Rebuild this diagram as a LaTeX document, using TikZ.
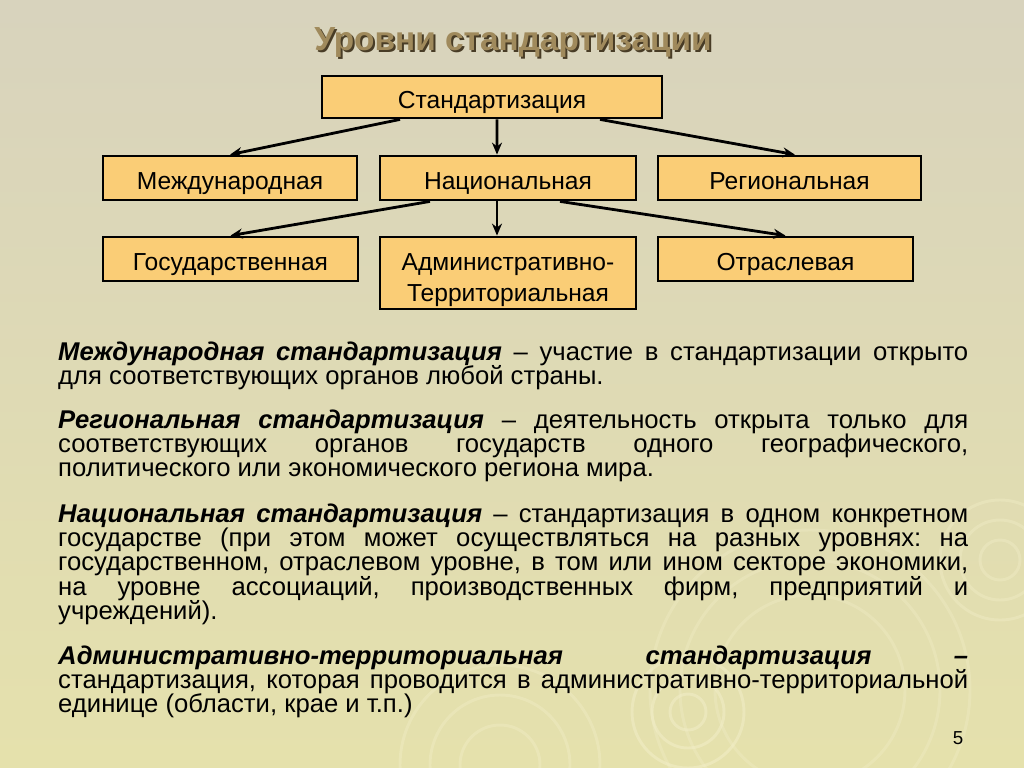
\documentclass[tikz,border=0pt]{standalone}
\usepackage{fontspec}
\setmainfont{Liberation Sans}
\usetikzlibrary{positioning,arrows.meta}
\definecolor{bgtop}{RGB}{216,211,189}
\definecolor{bgbot}{RGB}{229,225,172}
\definecolor{boxfill}{RGB}{250,205,118}
\definecolor{titlecol}{RGB}{160,138,92}
\definecolor{titleshade}{RGB}{72,60,38}
\definecolor{ripple}{RGB}{242,238,200}
\newcommand{\justsetup}{\frenchspacing\tolerance=10000\relax\hyphenpenalty=10000\relax\exhyphenpenalty=10000\relax}

\begin{document}
\begin{tikzpicture}[x=0.3mm, y=-0.3mm,
    lvl/.style={draw=black, line width=2.4pt, fill=boxfill,
      inner sep=0pt, font=\fontsize{21pt}{26.5pt}\selectfont},
    one/.style={text height=18.9pt, text depth=0pt},
    arr/.style={-{Stealth[length=3.6mm,width=3mm]}, line width=2.4pt},
    para/.style={anchor=base west, text width=273mm, align=justify, inner sep=0pt,
      font=\fontsize{21.9pt}{20.9pt}\selectfont, execute at begin node=\justsetup}]
  % background
  \useasboundingbox (0,0) rectangle (1024,767);
  \fill[top color=bgtop, bottom color=bgbot] (0,0) rectangle (1024,767);
  \begin{scope}
    \clip (0,0) rectangle (1024,767);
    \foreach \r in {18,36,56}
      \draw[ripple, line width=2.5pt, opacity=0.55] (688,712) circle (\r);
    \foreach \r in {95,130,160}
      \draw[ripple, line width=2.5pt, opacity=0.35] (810,690) circle (\r);
    \foreach \r in {40,70,100}
      \draw[ripple, line width=2.5pt, opacity=0.4] (500,765) circle (\r);
    \foreach \r in {20,40,60}
      \draw[ripple, line width=2.5pt, opacity=0.4] (1000,560) circle (\r);
  \end{scope}

  % title
  \node[anchor=base, titleshade, font=\bfseries\fontsize{28.5pt}{30pt}\selectfont] (titleshadow) at (515,52) {Уровни стандартизации};
  \node[anchor=base, titlecol, font=\bfseries\fontsize{28.5pt}{30pt}\selectfont] (title) at (513,50) {Уровни стандартизации};

  % levels
  \node[lvl, one, minimum width=102mm, minimum height=12.6mm] (std) at (492,97) {Стандартизация};
  \node[lvl, one, minimum width=76.2mm, minimum height=13.2mm] (intl) at (230,178) {Международная};
  \node[lvl, one, minimum width=76.8mm, minimum height=13.2mm] (nat) at (508,178) {Национальная};
  \node[lvl, one, minimum width=78.9mm, minimum height=13.2mm] (reg) at (789.5,178) {Региональная};
  \node[lvl, one, minimum width=76.5mm, minimum height=13.2mm] (gos) at (230.5,259) {Государственная};
  \node[lvl, align=center, minimum width=76.8mm, minimum height=21.6mm] (adm) at (508,273) {\rule{0pt}{26pt}Административно-\\Территориальная};
  \node[lvl, one, minimum width=76.5mm, minimum height=13.2mm] (otr) at (785.5,259) {Отраслевая};

  \draw[arr] ([xshift=-27.6mm]std.south) -- (intl.north);
  \draw[arr] ([xshift=1.5mm]std.south) -- ([xshift=-3.3mm]nat.north);
  \draw[arr] ([xshift=32.4mm]std.south) -- ([xshift=1.6mm]reg.north);
  \draw[arr] ([xshift=-23.4mm]nat.south) -- (gos.north);
  \draw[arr] ([xshift=-3.3mm]nat.south) -- ([xshift=-3.3mm]adm.north);
  \draw[arr] ([xshift=15.6mm]nat.south) -- (otr.north);

  % definitions
  \node[para] (pintl) at (58,360) {\textbf{\textit{Международная стандартизация}} – участие в стандартизации открыто\linebreak для соответствующих органов любой страны.};
  \node[para] (preg) at (58,428) {\textbf{\textit{Региональная стандартизация}} – деятельность открыта только для\linebreak соответствующих органов государств одного географического,\linebreak политического или экономического региона мира.};
  \node[para] (pnat) at (58,522) {\textbf{\textit{Национальная стандартизация}} – стандартизация в одном конкретном\linebreak государстве (при этом может осуществляться на разных уровнях: на\linebreak государственном, отраслевом уровне, в том или ином секторе экономики,\linebreak на уровне ассоциаций, производственных фирм, предприятий и\linebreak учреждений).};
  \node[para] (padm) at (58,664) {\textbf{\textit{Административно-территориальная стандартизация –}}\linebreak стандартизация, которая проводится в административно-территориальной\linebreak единице (области, крае и т.п.)};

  \node[anchor=base, font=\fontsize{16pt}{18pt}\selectfont] (page) at (958,744) {5};
\end{tikzpicture}
\end{document}
